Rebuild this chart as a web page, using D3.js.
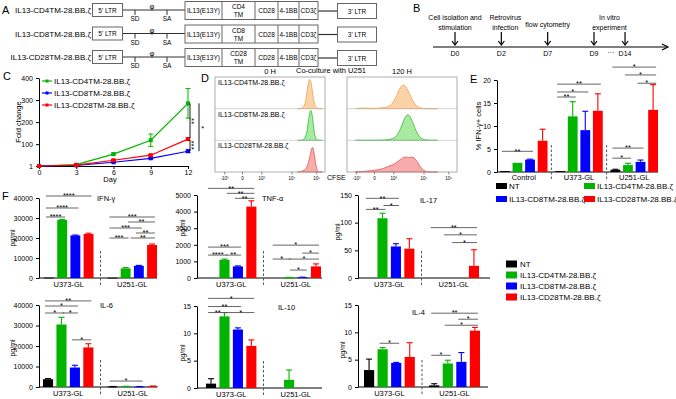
<!DOCTYPE html>
<html>
<head>
<meta charset="utf-8">
<script src="https://cdn.jsdelivr.net/npm/d3@7"></script>
<style>
  body { margin: 0; background: #fff; }
  svg { display: block; font-family: "Liberation Sans", Arial, sans-serif; }
</style>
</head>
<body>
<div id="fig"></div>
<script>
// ---------- data ----------
var constructs = ["IL13-CD4TM-28.BB.ζ", "IL13-CD8TM-28.BB.ζ", "IL13-CD28TM-28.BB.ζ"];
var tmNames = ["CD4", "CD8", "CD28"];
var cassette = ["IL13(E13Y)", "TM", "CD28", "4-1BB", "CD3ζ"];

var timeline = ["D0", "D2", "D7", "D9", "D14"];
var timelineSteps = [["Cell isolation and", "stimulation"], ["Retrovirus", "infection"], ["flow cytometry"], ["In vitro", "experiment"]];

var days = [0, 3, 6, 9, 12];
var foldCD4 = [1, 7, 55, 118, 285];
var foldCD4Err = [0, 2, 5, 28, 67];
var foldCD8 = [1, 4, 18, 36, 68];
var foldCD8Err = [0, 1, 2, 3, 6];
var foldCD28 = [1, 5, 27, 50, 123];
var foldCD28Err = [0, 1, 3, 4, 6];
var foldTicks = [1, 100, 200, 300, 400];

var cfseTicks = [0.35, 1, 1.7, 2.8, 3.7];
var cfseTickLabels = ["-10³", "0", "10³", "10⁴", "10⁵"];
var cfseBins0h = [3.0, 3.05, 3.1, 3.15, 3.2, 3.25, 3.3, 3.35, 3.4, 3.45, 3.5, 3.55, 3.6, 3.65, 3.7, 3.75, 3.8, 3.85, 3.9];
var cfse0hCD4 = [0, 0, 0.01, 0.02, 0.04, 0.1, 0.25, 0.55, 0.88, 0.95, 0.82, 0.5, 0.2, 0.06, 0.02, 0, 0, 0, 0];
var cfse0hCD8 = [0, 0, 0, 0, 0.02, 0.05, 0.12, 0.3, 0.62, 0.92, 0.98, 0.7, 0.3, 0.08, 0.02, 0, 0, 0, 0];
var cfse0hCD28 = [0, 0, 0.01, 0.02, 0.04, 0.06, 0.1, 0.18, 0.3, 0.48, 0.7, 0.82, 0.65, 0.3, 0.08, 0.02, 0, 0, 0];
var cfseBins120h = [0.3, 0.45, 0.6, 0.75, 0.9, 1.05, 1.2, 1.35, 1.5, 1.65, 1.8, 1.95, 2.1, 2.25, 2.4, 2.55, 2.7, 2.85, 3.0, 3.15, 3.3];
var cfse120hCD4 = [0, 0.01, 0.03, 0.01, 0.01, 0.01, 0.02, 0.03, 0.06, 0.15, 0.4, 0.72, 0.78, 0.52, 0.22, 0.06, 0.01, 0, 0, 0, 0];
var cfse120hCD8 = [0, 0, 0, 0, 0, 0, 0, 0.01, 0.02, 0.05, 0.12, 0.35, 0.75, 0.86, 0.55, 0.2, 0.05, 0.01, 0, 0, 0];
var cfse120hCD28 = [0.01, 0, 0.02, 0.03, 0.05, 0.06, 0.08, 0.12, 0.18, 0.22, 0.3, 0.4, 0.5, 0.44, 0.5, 0.34, 0.1, 0.02, 0, 0, 0];

var series = ["NT", "IL13-CD4TM-28.BB.ζ", "IL13-CD8TM-28.BB.ζ", "IL13-CD28TM-28.BB.ζ"];
var eGroups = ["Control", "U373-GL", "U251-GL"];
var ifnPct = [[0.2, 2.0, 2.7, 6.8], [0.2, 12.1, 9.1, 13.3], [0.5, 1.5, 2.2, 13.5]];
var ifnPctErr = [[0, 0, 0.1, 2.5], [0, 3.2, 4.1, 3.7], [0.1, 0.4, 0.4, 5.5]];
var ifnPctTicks = [0, 5, 10, 15, 20];
// [group, bar a, bar b, level, label]
var ifnPctSig = [[0, 0, 2, 4.5, "**"], [1, 0, 1, 16.3, "**"], [1, 0, 2, 17.4, "*"], [1, 0, 3, 19.1, "**"],
  [2, 0, 1, 3.0, "*"], [2, 0, 2, 5.2, "**"], [2, 0, 3, 22.8, "*"], [2, 1, 3, 21.1, "*"], [2, 2, 3, 19.3, "*"]];

var fGroups = ["U373-GL", "U251-GL"];
var ifng = [[200, 29000, 21300, 22000], [150, 4800, 6100, 16500]];
var ifngErr = [[0, 300, 200, 400], [0, 400, 200, 500]];
var ifngSig = [[0, 0, 3, 41000, "****"], [0, 0, 2, 35000, "****"], [0, 0, 1, 30500, "****"],
  [1, 0, 3, 30500, "***"], [1, 1.4, 3, 28000, "**"], [1, 0, 2, 25000, "***"], [1, 2, 3, 22500, "**"],
  [1, 0, 1, 20000, "***"], [1, 1.6, 3, 20000, "**"]];
var tnf = [[0, 1100, 700, 4300], [0, 30, 40, 700]];
var tnfErr = [[0, 40, 30, 350], [0, 10, 10, 150]];
var tnfSig = [[0, 0, 3, 5400, "**"], [0, 1.4, 3, 5100, "**"], [0, 2, 3, 4800, "**"],
  [0, 0, 2, 1860, "***"], [0, 0, 1, 1380, "****"], [0, 1.3, 2, 1380, "**"],
  [1, 0, 3, 1980, "*"], [1, 0, 0.9, 1140, "*"], [1, 1.2, 3, 1140, "*"], [1, 2.2, 3, 1500, "*"], [1, 1.3, 2.1, 480, "*"]];
var il17 = [[0, 108, 57, 53], [0, 0, 0, 22]];
var il17Err = [[0, 9, 5, 18], [0, 0, 0, 29]];
var il17Sig = [[0, 0, 2, 144, "**"], [0, 0, 1, 124, "**"], [0, 1.3, 2, 131, "*"],
  [1, 0, 3, 91, "**"], [1, 1, 3, 78, "*"], [1, 1.6, 3, 64, "*"]];
var il6 = [[3800, 30500, 9500, 19300], [200, 300, 200, 400]];
var il6Err = [[300, 3500, 1100, 1800], [50, 80, 50, 100]];
var il6Sig = [[0, 0, 3, 42000, "**"], [0, 0, 2, 39500, "*"], [0, 0, 1, 36100, "*"], [0, 1.3, 2, 36100, "*"],
  [0, 2, 3, 23000, "*"], [1, 0, 2, 2900, "*"]];
var il10 = [[0.8, 13.1, 10.7, 7.7], [0, 1.5, 0, 0]];
var il10Err = [[0.9, 0.7, 0.3, 1.1], [0, 1.8, 0, 0]];
var il10Sig = [[0, 0, 3, 16.4, "*"], [0, 0, 2, 14.9, "**"], [0, 0, 1, 13.8, "**"], [0, 1.4, 3, 13.8, "*"]];
var il4 = [[3.1, 6.9, 4.4, 5.5], [0.3, 4.3, 4.6, 10.3]];
var il4Err = [[2.0, 0.3, 0.1, 2.6], [0.3, 0.6, 1.7, 0.6]];
var il4Sig = [[0, 1, 2, 8.0, "*"], [1, 0, 3, 13.5, "**"], [1, 2, 3, 12.4, "*"], [1, 1, 3, 11.3, "*"], [1, 0, 1, 5.8, "*"]];

// ---------- setup ----------
var colors = ["#000000", "#00b400", "#0000ff", "#ff0000"];
var svg = d3.select("#fig").append("svg").attr("width", 676).attr("height", 399);

function txt(g, x, y, s, size, anchor) {
  return g.append("text").attr("x", x).attr("y", y).attr("font-size", size)
    .attr("text-anchor", anchor || "start").text(s);
}
function styleAxis(a) {
  a.attr("font-size", 7).attr("font-family", null);
  a.selectAll("path,line").attr("stroke", "#000");
}

// panel letters
[["A", 2, 14], ["B", 413, 12], ["C", 3, 80], ["D", 201, 82], ["E", 470, 83], ["F", 2, 200]].forEach(function(p) {
  txt(svg, p[1], p[2], p[0], 11);
});

// ---------- A ----------
var gA = svg.append("g");
var rowY = d3.scalePoint().domain(constructs).range([10, 57]);
var segEdges = [185, 222, 255, 278, 299, 318];
constructs.forEach(function(c, i) {
  var cy = rowY(c);
  txt(gA, 91, cy + 3, c, 8, "end");
  gA.append("line").attr("x1", 122).attr("x2", 185).attr("y1", cy).attr("y2", cy).attr("stroke", "#333").attr("stroke-width", 1.2);
  gA.append("line").attr("x1", 318).attr("x2", 338).attr("y1", cy + 1).attr("y2", cy + 1).attr("stroke", "#333").attr("stroke-width", 1.2);
  gA.append("rect").attr("x", 92.5).attr("y", cy - 6.5).attr("width", 30).attr("height", 13).attr("fill", "#fff").attr("stroke", "#666");
  txt(gA, 107.5, cy + 2.5, "5' LTR", 6.5, "middle");
  gA.append("rect").attr("x", 337.5).attr("y", cy - 6.5).attr("width", 39).attr("height", 15).attr("fill", "#fff").attr("stroke", "#666");
  txt(gA, 357, cy + 3.5, "3' LTR", 6.5, "middle");
  [["SD", 135], ["SA", 167]].forEach(function(s) {
    gA.append("line").attr("x1", s[1]).attr("x2", s[1]).attr("y1", cy).attr("y2", cy + 5).attr("stroke", "#333");
    txt(gA, s[1], cy + 11, s[0], 6.5, "middle");
  });
  txt(gA, 152, cy - 1, "φ", 7.5, "middle");
  gA.append("rect").attr("x", 185).attr("y", cy - 8.5).attr("width", 133).attr("height", 18).attr("fill", "#fff").attr("stroke", "#666");
  cassette.forEach(function(s, k) {
    var x0 = segEdges[k], x1 = segEdges[k + 1], mx = (x0 + x1) / 2;
    if (k > 0) gA.append("line").attr("x1", x0).attr("x2", x0).attr("y1", cy - 8.5).attr("y2", cy + 9.5).attr("stroke", "#666");
    if (s === "TM") {
      txt(gA, mx, cy - 1, tmNames[i], 6.5, "middle");
      txt(gA, mx, cy + 7, "TM", 6.5, "middle");
    } else {
      txt(gA, mx, cy + 3, s, 6.5, "middle");
    }
  });
});

// ---------- B ----------
var gB = svg.append("g");
var tx = d3.scalePoint().domain(timeline.slice(0, 4)).range([455, 594]);
function tPos(d) { return d === "D14" ? tx("D9") + tx.step() * 0.67 : tx(d); }
gB.append("line").attr("x1", 433).attr("x2", 667).attr("y1", 47).attr("y2", 47).attr("stroke", "#000").attr("stroke-width", 1.2);
gB.append("path").attr("d", "M662,44 L668,47 L662,50").attr("fill", "none").attr("stroke", "#000").attr("stroke-width", 1.2);
timeline.forEach(function(d, i) {
  var x = tPos(d);
  gB.append("line").attr("x1", x).attr("x2", x).attr("y1", 32).attr("y2", 45).attr("stroke", "#000").attr("stroke-width", 1.2);
  gB.append("path").attr("d", "M" + (x - 3) + ",41 L" + x + ",45 L" + (x + 3) + ",41").attr("fill", "none").attr("stroke", "#000").attr("stroke-width", 1.2);
  txt(gB, x, 56, d, 7, "middle");
});
txt(gB, 611, 55, "···", 7, "middle");
timelineSteps.forEach(function(lines, i) {
  var x = i === 3 ? (tPos("D9") + tPos("D14")) / 2 : tPos(timeline[i]) + (i === 1 ? 4 : 0);
  if (lines.length === 1) txt(gB, x, 27, lines[0], 7, "middle");
  else lines.forEach(function(l, k) { txt(gB, x, 20 + k * 10, l, 7, "middle"); });
});

// ---------- C ----------
var gC = svg.append("g");
var cx = d3.scaleLinear().domain([0, 12]).range([39, 188]);
var cy = d3.scaleLinear().domain([1, 400]).range([166, 78]);
gC.append("g").attr("transform", "translate(0,166)")
  .call(d3.axisBottom(cx).tickValues(days).tickSize(3).tickPadding(1).tickSizeOuter(0)).call(styleAxis);
gC.append("g").attr("transform", "translate(39,0)")
  .call(d3.axisLeft(cy).tickValues(foldTicks).tickSize(3).tickSizeOuter(0)).call(styleAxis);
txt(gC, 110, 182, "Day", 7.5, "middle");
gC.append("text").attr("transform", "translate(21,122) rotate(-90)").attr("font-size", 7.5).attr("text-anchor", "middle").text("Fold change");
var foldSets = [[foldCD4, foldCD4Err, colors[1]], [foldCD8, foldCD8Err, colors[2]], [foldCD28, foldCD28Err, colors[3]]];
var cLine = d3.line().x(function(d, i) { return cx(days[i]); }).y(function(d) { return cy(d); });
foldSets.forEach(function(s, k) {
  gC.append("path").attr("d", cLine(s[0])).attr("fill", "none").attr("stroke", s[2]).attr("stroke-width", 1.2);
  s[0].forEach(function(v, i) {
    var x = cx(days[i]);
    if (s[1][i] > 0) {
      var y1 = cy(v + s[1][i]), y2 = cy(v - s[1][i]);
      gC.append("line").attr("x1", x).attr("x2", x).attr("y1", y1).attr("y2", y2).attr("stroke", s[2]);
      [y1, y2].forEach(function(yy) {
        gC.append("line").attr("x1", x - 2.5).attr("x2", x + 2.5).attr("y1", yy).attr("y2", yy).attr("stroke", s[2]);
      });
    }
    gC.append("rect").attr("x", x - 2).attr("y", cy(v) - 2).attr("width", 4).attr("height", 4).attr("fill", s[2]);
  });
  var ly = 81 + k * 12;
  gC.append("line").attr("x1", 42).attr("x2", 52).attr("y1", ly).attr("y2", ly).attr("stroke", s[2]).attr("stroke-width", 1.2);
  gC.append("rect").attr("x", 45.5).attr("y", ly - 1.5).attr("width", 3).attr("height", 3).attr("fill", s[2]);
  txt(gC, 54, ly + 3, constructs[k], 8);
});
// brackets at day 12
var lastI = days.length - 1;
function vline(x, a, b) {
  gC.append("line").attr("x1", x).attr("x2", x).attr("y1", a).attr("y2", b).attr("stroke", "#000").attr("stroke-width", 0.9);
}
vline(190, cy(foldCD4[lastI]), cy(foldCD28[lastI]) - 1);
vline(190, cy(foldCD28[lastI]) + 1, cy(foldCD8[lastI]));
vline(199, cy(foldCD4[lastI]), cy(foldCD8[lastI]));
function vstar(x, y, s) {
  gC.append("text").attr("transform", "translate(" + x + "," + y + ") rotate(90)").attr("font-size", 8).attr("text-anchor", "middle").text(s);
}
vstar(189, (cy(foldCD4[lastI]) + cy(foldCD28[lastI])) / 2, "**");
vstar(189, (cy(foldCD28[lastI]) + cy(foldCD8[lastI])) / 2, "***");
vstar(198.5, (cy(foldCD4[lastI]) + cy(foldCD8[lastI])) / 2, "*");

// ---------- D ----------
var gD = svg.append("g");
var dTop = 77, dBot = 172, dRowH = (dBot - dTop) / 3;
var histStyle = [["#fbd2a6", "#f0a255"], ["#a8eaa2", "#2fbd2f"], ["#f7abab", "#e45858"]];
var dPanels = [
  { x0: 215, bins: cfseBins0h, hists: [cfse0hCD4, cfse0hCD8, cfse0hCD28], labels: true },
  { x0: 347, bins: cfseBins120h, hists: [cfse120hCD4, cfse120hCD8, cfse120hCD28], labels: false }
];
dPanels.forEach(function(p) {
  var dx = d3.scaleLinear().domain([0, 4]).range([p.x0, p.x0 + 110]);
  p.hists.forEach(function(h, r) {
    var base = dTop + dRowH * (r + 1);
    var area = d3.area().curve(d3.curveBasis)
      .x(function(d, i) { return dx(p.bins[i]); })
      .y0(base).y1(function(d) { return base - d * dRowH; });
    gD.append("path").attr("d", area(h)).attr("fill", histStyle[r][0]).attr("stroke", histStyle[r][1]).attr("stroke-width", 0.8);
    if (r < 2) gD.append("line").attr("x1", p.x0).attr("x2", p.x0 + 110).attr("y1", base).attr("y2", base).attr("stroke", "#bbb").attr("stroke-width", 0.6);
    if (p.labels) txt(gD, p.x0 + 3, dTop + dRowH * r + 8, constructs[r], 7);
  });
  gD.append("rect").attr("x", p.x0).attr("y", dTop).attr("width", 110).attr("height", dBot - dTop).attr("fill", "none").attr("stroke", "#999").attr("stroke-width", 0.8);
  cfseTicks.forEach(function(t, i) {
    gD.append("line").attr("x1", dx(t)).attr("x2", dx(t)).attr("y1", dBot).attr("y2", dBot + 2.5).attr("stroke", "#444").attr("stroke-width", 0.6);
    txt(gD, dx(t), dBot + 7.5, cfseTickLabels[i], 4.5, "middle");
  });
});
txt(gD, 327, 180, "CFSE", 7);
txt(gD, 270, 74, "0 H", 7.5, "middle");
txt(gD, 331, 73, "Co-culture with U251", 7.5, "middle");
txt(gD, 402, 74, "120 H", 7.5, "middle");

// ---------- shared bar helpers ----------
function drawBars(g, pos, bw, y, means, errs) {
  means.forEach(function(row, gi) {
    row.forEach(function(v, si) {
      var c = pos(gi, si);
      if (v > 0) g.append("rect").attr("x", c - bw / 2).attr("y", y(v)).attr("width", bw)
        .attr("height", Math.max(0.8, y(0) - y(v))).attr("fill", colors[si]);
      var e = errs[gi][si];
      if (e > 0) {
        g.append("line").attr("x1", c).attr("x2", c).attr("y1", y(v)).attr("y2", y(v + e)).attr("stroke", colors[si]).attr("stroke-width", 1.1);
        g.append("line").attr("x1", c - 3).attr("x2", c + 3).attr("y1", y(v + e)).attr("y2", y(v + e)).attr("stroke", colors[si]).attr("stroke-width", 1.1);
      }
    });
  });
}
function drawSig(g, pos, y, list) {
  list.forEach(function(s) {
    var x1 = pos(s[0], s[1]) - 3, x2 = pos(s[0], s[2]) + 3, yy = y(s[3]);
    g.append("line").attr("x1", x1).attr("x2", x2).attr("y1", yy).attr("y2", yy).attr("stroke", "#555").attr("stroke-width", 0.9);
    txt(g, (x1 + x2) / 2, yy + 2.2, s[4], 7.5, "middle");
  });
}

// ---------- E ----------
var gE = svg.append("g");
var ey = d3.scaleLinear().domain([0, 20]).range([172, 80]);
var ex0 = d3.scaleBand().domain(eGroups).range([500, 658]).paddingInner(0.14);
var ex1 = d3.scaleBand().domain(d3.range(4)).range([0, ex0.bandwidth()]).paddingInner(0.22);
function ePos(gi, si) { return ex0(eGroups[gi]) + ex1.step() * si + ex1.bandwidth() / 2; }
gE.append("g").attr("transform", "translate(497,0)")
  .call(d3.axisLeft(ey).tickValues(ifnPctTicks).tickSize(3).tickSizeOuter(0)).call(styleAxis);
gE.append("line").attr("x1", 497).attr("x2", 658).attr("y1", 172).attr("y2", 172).attr("stroke", "#000");
drawBars(gE, ePos, ex1.bandwidth(), ey, ifnPct, ifnPctErr);
drawSig(gE, ePos, ey, ifnPctSig);
eGroups.forEach(function(gname, gi) {
  txt(gE, ex0(gname) + ex0.bandwidth() / 2, 180, gname, 7.5, "middle");
  if (gi > 0) {
    var sx = ex0(gname) - ex0.step() * ex0.paddingInner() / 2;
    gE.append("line").attr("x1", sx).attr("x2", sx).attr("y1", 145).attr("y2", 180).attr("stroke", "#555").attr("stroke-dasharray", "2.5,2");
  }
});
gE.append("text").attr("transform", "translate(481,126) rotate(-90)").attr("font-size", 7.5).attr("text-anchor", "middle").text("% IFN-γ+ cells");
series.forEach(function(s, i) {
  var lx = i % 2 === 0 ? 496 : 584, ly = 186 + Math.floor(i / 2) * 13;
  gE.append("rect").attr("x", lx).attr("y", ly - 3).attr("width", 11).attr("height", 6).attr("fill", colors[i]);
  txt(gE, lx + 13, ly + 3, s, 8);
});

// ---------- F ----------
var fPanels = [
  { title: "IFN-γ", mean: ifng, err: ifngErr, sig: ifngSig, max: 40000, ticks: [0, 10000, 20000, 30000, 40000],
    ax: 39, axEnd: 157, top: 198, base: 278, band: [44, 157], tpos: [97, 201], ylab: [15, 238] },
  { title: "TNF-α", mean: tnf, err: tnfErr, sig: tnfSig, max: 5000, ticks: [0, 1000, 2000, 3000, 4000, 5000],
    ax: 197, axEnd: 322, top: 195, base: 278, band: [206, 321], tpos: [262, 201], ylab: [185, 228] },
  { title: "IL-17", mean: il17, err: il17Err, sig: il17Sig, max: 150, ticks: [0, 50, 100, 150],
    ax: 358, axEnd: 490, top: 195, base: 278, band: [364, 479], tpos: [420, 203], ylab: [340, 232] },
  { title: "IL-6", mean: il6, err: il6Err, sig: il6Sig, max: 40000, ticks: [0, 10000, 20000, 30000, 40000],
    ax: 39, axEnd: 157, top: 305, base: 387, band: [43, 158], tpos: [100, 308], ylab: [15, 348] },
  { title: "IL-10", mean: il10, err: il10Err, sig: il10Sig, max: 15, ticks: [0, 5, 10, 15],
    ax: 197, axEnd: 322, top: 306, base: 388, band: [206, 321], tpos: [278, 310], ylab: [185, 353] },
  { title: "IL-4", mean: il4, err: il4Err, sig: il4Sig, max: 15, ticks: [0, 5, 10, 15],
    ax: 358, axEnd: 488, top: 305, base: 387, band: [364, 480], tpos: [412, 315], ylab: [345, 350] }
];
fPanels.forEach(function(p) {
  var g = svg.append("g");
  var y = d3.scaleLinear().domain([0, p.max]).range([p.base, p.top]);
  var x0 = d3.scaleBand().domain(fGroups).range(p.band).paddingInner(0.22);
  var x1 = d3.scaleBand().domain(d3.range(4)).range([0, x0.bandwidth()]).paddingInner(0.25);
  var pos = function(gi, si) { return x0(fGroups[gi]) + x1.step() * si + x1.bandwidth() / 2; };
  g.append("g").attr("transform", "translate(" + p.ax + ",0)")
    .call(d3.axisLeft(y).tickValues(p.ticks).tickSize(3).tickSizeOuter(0).tickFormat(d3.format("d"))).call(styleAxis);
  g.append("line").attr("x1", p.ax).attr("x2", p.axEnd).attr("y1", p.base).attr("y2", p.base).attr("stroke", "#000");
  drawBars(g, pos, x1.bandwidth(), y, p.mean, p.err);
  drawSig(g, pos, y, p.sig);
  var sx = x0(fGroups[1]) - x0.step() * x0.paddingInner() / 2;
  g.append("line").attr("x1", sx).attr("x2", sx).attr("y1", p.base - 27).attr("y2", p.base + 8).attr("stroke", "#555").attr("stroke-dasharray", "2.5,2");
  fGroups.forEach(function(gname) {
    txt(g, x0(gname) + x0.bandwidth() / 2, p.base + 9, gname, 7.5, "middle");
  });
  txt(g, p.tpos[0], p.tpos[1], p.title, 7.5);
  g.append("text").attr("transform", "translate(" + p.ylab[0] + "," + p.ylab[1] + ") rotate(-90)")
    .attr("font-size", 7).attr("text-anchor", "middle").text("pg/ml");
});
// F legend
series.forEach(function(s, i) {
  var ly = 264 + i * 11;
  svg.append("rect").attr("x", 506).attr("y", ly - 3.5).attr("width", 11).attr("height", 7).attr("fill", colors[i]);
  txt(svg, 520, ly + 3, s, 8);
});
</script>
</body>
</html>
